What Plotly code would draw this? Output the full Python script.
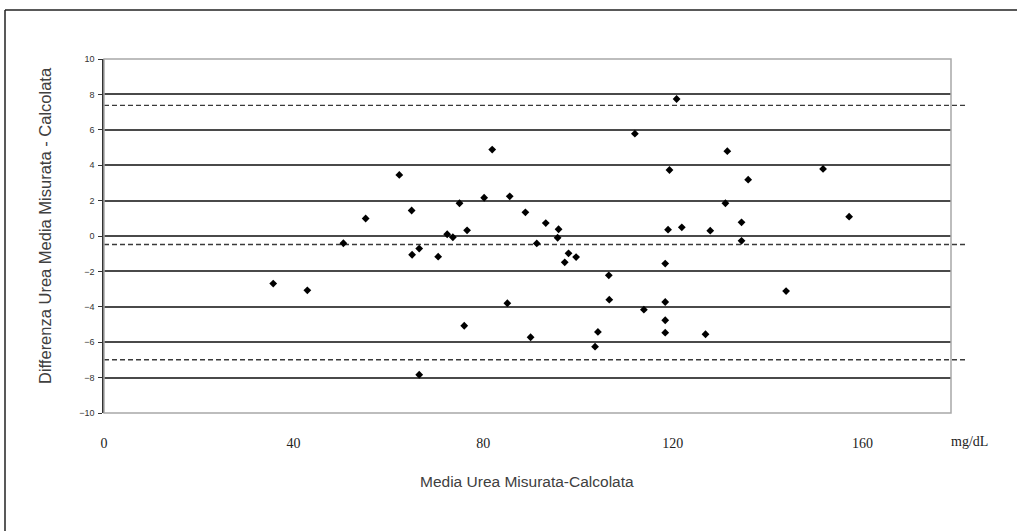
import plotly.graph_objects as go

# Bland-Altman: mean of measured/calculated urea vs their difference
media = [35.7, 42.9, 50.5, 55.2, 62.3, 64.9, 65.0, 66.5, 66.5, 70.5,
         72.4, 73.6, 75.0, 76.0, 76.6, 80.2, 81.9, 85.1, 85.6, 88.9,
         90.0, 91.3, 93.2, 95.7, 95.9, 97.2, 98.0, 99.6, 103.6, 104.2,
         106.5, 106.6, 112.0, 113.9, 118.4, 118.4, 118.4, 118.4, 119.0, 119.3,
         120.8, 121.9, 126.9, 127.9, 131.1, 131.5, 134.5, 134.5, 135.9, 143.9,
         151.7, 157.2]
differenza = [-2.69, -3.07, -0.41, 0.99, 3.45, 1.44, -1.06, -0.71, -7.84, -1.17,
              0.10, -0.07, 1.85, -5.07, 0.32, 2.16, 4.88, -3.80, 2.24, 1.34,
              -5.72, -0.42, 0.73, -0.10, 0.38, -1.49, -0.98, -1.19, -6.25, -5.42,
              -2.22, -3.60, 5.78, -4.16, -1.56, -3.73, -4.76, -5.46, 0.36, 3.73,
              7.74, 0.49, -5.55, 0.30, 1.85, 4.79, 0.77, -0.27, 3.18, -3.11,
              3.79, 1.09]

# mean difference and limits of agreement
limiti = [7.38, -0.48, -6.99]

x_ticks = [0, 40, 80, 120, 160]
y_ticks = [-10, -8, -6, -4, -2, 0, 2, 4, 6, 8, 10]

W, H = 1017, 531
L, R, T, B = 104, 951, 59, 413


def px(xp):
    return (xp - L) / (R - L)


def py(yp):
    return (B - yp) / (B - T)


fig = go.Figure()
fig.add_trace(go.Scatter(
    x=media, y=differenza, mode="markers",
    marker=dict(symbol="diamond", size=6, color="#000000",
                line=dict(width=0)),
    showlegend=False, hoverinfo="x+y",
))

shapes = []
# dashed reference lines running just past the plot frame
for v in limiti:
    shapes.append(dict(type="line", xref="paper", yref="y",
                       x0=0, x1=px(966), y0=v, y1=v,
                       line=dict(color="#3a3a3a", width=1.4, dash="5px,3px"),
                       layer="below"))
# light plot frame
shapes.append(dict(type="rect", xref="paper", yref="paper",
                   x0=0, x1=1, y0=0, y1=1,
                   line=dict(color="#a8a8a8", width=1.5), layer="above"))
# outer figure border (top and left edges)
shapes.append(dict(type="line", xref="paper", yref="paper",
                   x0=px(5), x1=px(1030), y0=py(10), y1=py(10),
                   line=dict(color="#222222", width=1.5)))
shapes.append(dict(type="line", xref="paper", yref="paper",
                   x0=px(5), x1=px(5), y0=py(10), y1=py(545),
                   line=dict(color="#222222", width=1.5)))

annotations = [
    dict(text="Media Urea Misurata-Calcolata", xref="paper", yref="paper",
         x=px(527), y=py(481), showarrow=False,
         font=dict(family="Liberation Sans, Arial", size=15.5, color="#404040"),
         xanchor="center", yanchor="middle"),
    dict(text="Differenza Urea Media Misurata - Calcolata", xref="paper",
         yref="paper", x=px(45), y=py(226), showarrow=False, textangle=-90,
         font=dict(family="Liberation Sans, Arial", size=16.5, color="#404040"),
         xanchor="center", yanchor="middle"),
    dict(text="mg/dL", xref="paper", yref="paper",
         x=px(969), y=py(441), showarrow=False,
         font=dict(family="Liberation Serif, Times New Roman", size=14,
                   color="#222222"),
         xanchor="center", yanchor="middle"),
]

fig.update_layout(
    width=W, height=H,
    margin=dict(l=L, r=W - R, t=T, b=H - B, pad=0),
    paper_bgcolor="#ffffff", plot_bgcolor="#ffffff",
    shapes=shapes, annotations=annotations,
    xaxis=dict(range=[0, (R - L) / 4.74], showgrid=False, zeroline=False,
               showline=False, tickvals=x_ticks, ticks="",
               ticklabelstandoff=20,
               tickfont=dict(family="Liberation Serif, Times New Roman",
                             size=14, color="#222222")),
    yaxis=dict(range=[-10, 10], tickvals=y_ticks, showgrid=True,
               gridcolor="#4a4a4a", gridwidth=1.5, zeroline=False,
               showline=True, linecolor="#333333", linewidth=1.5,
               ticks="outside", ticklen=4, tickwidth=1, tickcolor="#333333",
               ticklabelstandoff=2,
               tickfont=dict(family="Liberation Sans, Arial", size=9,
                             color="#333333")),
)

fig.write_html("out.html")
